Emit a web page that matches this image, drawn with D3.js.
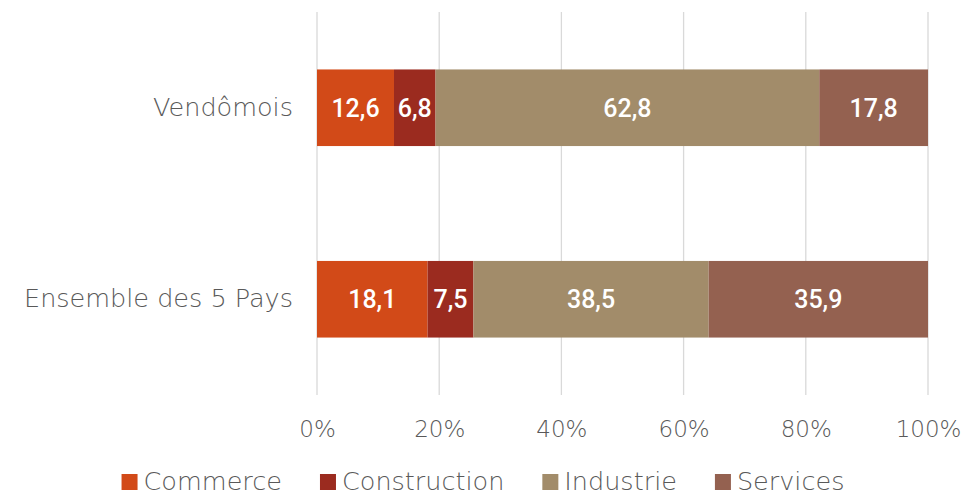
<!DOCTYPE html>
<html>
<head>
<meta charset="utf-8">
<script src="https://cdn.jsdelivr.net/npm/d3@7"></script>
<style>
  body { margin: 0; background: #fff; }
  text { font-family: "DejaVu Sans", sans-serif; }
</style>
</head>
<body>
<div id="chart"></div>
<script>
// categories (top to bottom)
const categories = ['Vendômois', 'Ensemble des 5 Pays'];
// series
const seriesNames = ['Commerce', 'Construction', 'Industrie', 'Services'];
const commerce = [12.6, 18.1];
const construction = [6.8, 7.5];
const industrie = [62.8, 38.5];
const services = [17.8, 35.9];
const tickValues = [0, 0.2, 0.4, 0.6, 0.8, 1];

const colors = ['#D24A18', '#9B2B1F', '#A28C6A', '#946150'];

const width = 966;
const height = 497;
const margin = { top: 12, right: 38, bottom: 102, left: 317 };
const innerW = width - margin.left - margin.right;
const innerH = height - margin.top - margin.bottom;

const rows = categories.map((c, i) => ({
  cat: c,
  Commerce: commerce[i],
  Construction: construction[i],
  Industrie: industrie[i],
  Services: services[i]
}));

const stack = d3.stack().keys(seriesNames).offset(d3.stackOffsetExpand);
const stacked = stack(rows);

const svg = d3.select('#chart')
  .append('svg')
  .attr('width', width)
  .attr('height', height)
  .append('g')
  .attr('transform', `translate(${margin.left},${margin.top})`);

const xScale = d3.scaleLinear().domain([0, 1]).range([0, innerW]);
const yScale = d3.scaleBand().domain(categories).range([0, innerH]).paddingInner(0.6).paddingOuter(0.3);

// gridlines
svg.append('g')
  .selectAll('line')
  .data(tickValues)
  .join('line')
  .attr('x1', d => xScale(d))
  .attr('x2', d => xScale(d))
  .attr('y1', 0)
  .attr('y2', innerH)
  .attr('stroke', '#d9d9d9')
  .attr('stroke-width', 1.3);

// x axis
const xAxis = d3.axisBottom(xScale)
  .tickValues(tickValues)
  .tickFormat(d3.format('.0%'))
  .tickSize(0)
  .tickPadding(26);
svg.append('g')
  .attr('class', 'x axis')
  .attr('transform', `translate(0,${innerH})`)
  .call(xAxis)
  .call(g => g.select('.domain').remove())
  .selectAll('text')
  .style('font-size', '23px')
  .style('font-weight', 200)
  .attr('fill', '#595959');

// y axis
const yAxis = d3.axisLeft(yScale).tickSize(0).tickPadding(24);
svg.append('g')
  .attr('class', 'y axis')
  .call(yAxis)
  .call(g => g.select('.domain').remove())
  .selectAll('text')
  .style('font-size', '25.5px')
  .style('font-weight', 200)
  .attr('fill', '#595959');

// bars
const layers = svg.selectAll('.layer')
  .data(stacked)
  .join('g')
  .attr('class', 'layer')
  .attr('fill', (d, i) => colors[i]);

layers.selectAll('rect')
  .data(d => d)
  .join('rect')
  .attr('x', d => xScale(d[0]))
  .attr('y', d => yScale(d.data.cat))
  .attr('width', d => xScale(d[1]) - xScale(d[0]))
  .attr('height', yScale.bandwidth());

// data labels
layers.selectAll('text')
  .data((d) => d.map(v => ({ v, key: d.key })))
  .join('text')
  .attr('x', d => (xScale(d.v[0]) + xScale(d.v[1])) / 2)
  .attr('y', d => yScale(d.v.data.cat) + yScale.bandwidth() / 2)
  .attr('dy', '0.36em')
  .attr('text-anchor', 'middle')
  .attr('fill', '#fff')
  .style('font-family', 'Roboto, sans-serif')
  .style('font-size', '25px')
  .style('font-weight', 500)
  .text(d => d.v.data[d.key].toFixed(1).replace('.', ','));

// legend
const legend = svg.append('g');
let lx = 0;
seriesNames.forEach((name, i) => {
  const g = legend.append('g').attr('transform', `translate(${lx},0)`);
  g.append('rect')
    .attr('x', 0)
    .attr('y', -7)
    .attr('width', 16)
    .attr('height', 16)
    .attr('fill', colors[i]);
  const t = g.append('text')
    .attr('x', 22)
    .attr('dy', '0.36em')
    .attr('fill', '#595959')
    .style('font-size', '25.5px')
    .style('font-weight', 200)
    .text(name);
  lx += 22 + t.node().getComputedTextLength() + 38;
});
const legendW = lx - 38;
legend.attr('transform', `translate(${(width - legendW) / 2 - margin.left},${innerH + 86})`);
</script>
</body>
</html>
